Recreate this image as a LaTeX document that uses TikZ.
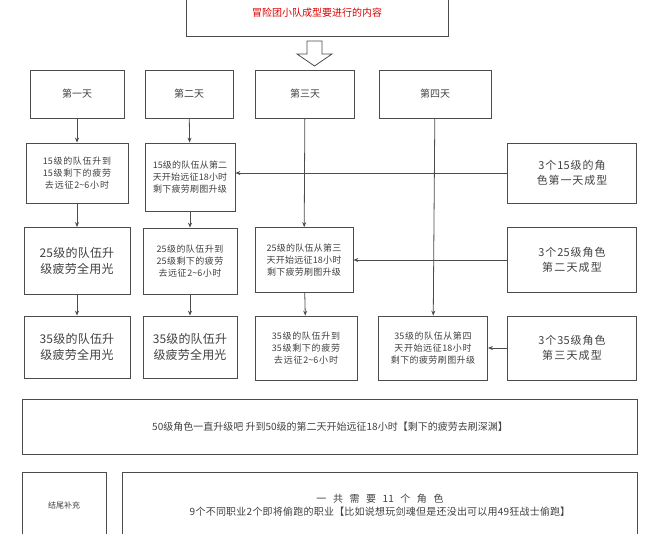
\documentclass[tikz,border=0pt]{standalone}
\usepackage{fontspec}
\setmainfont{Noto Sans CJK SC}
\XeTeXlinebreaklocale "zh"
\XeTeXlinebreakskip=0pt plus 1pt
\usetikzlibrary{arrows.meta}
\tikzset{
    box/.style={draw=black!70,line width=0.8pt,align=center,inner sep=1pt,text=black!75},
    link/.style={draw=black!70,line width=0.8pt,-{Stealth[length=5pt,width=4pt]}},
}
\begin{document}
\begin{tikzpicture}[x=1pt,y=-1pt]
    \useasboundingbox (0,0) rectangle (650,533);
    % title
    \node[box,minimum width=262pt,minimum height=46pt,text=red!85!black,font=\fontsize{10}{12}\selectfont]
        (title) at (317,13) {冒险团小队成型要进行的内容};
    \draw[black!70,line width=0.8pt,fill=white]
        (307,41) -- (322,41) -- (322,54) -- (332,54) -- (314.5,66) -- (297,54) -- (307,54) -- cycle;
    % days
    \node[box,minimum width=94pt,minimum height=48pt,font=\fontsize{10}{12}\selectfont] (d1) at (77,94) {第一天};
    \node[box,minimum width=88pt,minimum height=48pt,font=\fontsize{10}{12}\selectfont] (d2) at (189,94) {第二天};
    \node[box,minimum width=99pt,minimum height=48pt,font=\fontsize{10}{12}\selectfont] (d3) at (305,94) {第三天};
    \node[box,minimum width=112pt,minimum height=48pt,font=\fontsize{10}{12}\selectfont] (d4) at (435,94) {第四天};
    % first row
    \node[box,minimum width=102pt,minimum height=60pt,text width=94pt,font=\fontsize{9}{12}\selectfont]
        (b11) at (77,173) {15级的队伍升到15级剩下的疲劳去远征2\textasciitilde6小时};
    \node[box,minimum width=90pt,minimum height=68pt,text width=82pt,font=\fontsize{9}{12}\selectfont]
        (b12) at (190,177) {15级的队伍从第二天开始远征18小时剩下疲劳刷图升级};
    \node[box,minimum width=129pt,minimum height=60pt,text width=110pt,font=\fontsize{11}{15}\selectfont]
        (r1) at (572,173) {3个15级的角色第一天成型};
    % second row
    \node[box,minimum width=106pt,minimum height=67pt,text width=86pt,font=\fontsize{12}{16}\selectfont]
        (b21) at (77,261) {25级的队伍升级疲劳全用光};
    \node[box,minimum width=94pt,minimum height=66pt,text width=82pt,font=\fontsize{9}{12}\selectfont]
        (b22) at (190,261) {25级的队伍升到25级剩下的疲劳去远征2\textasciitilde6小时};
    \node[box,minimum width=98pt,minimum height=65pt,text width=84pt,font=\fontsize{9}{12}\selectfont]
        (b23) at (304,260) {25级的队伍从第三天开始远征18小时剩下疲劳刷图升级};
    \node[box,minimum width=129pt,minimum height=65pt,text width=110pt,font=\fontsize{11}{15}\selectfont]
        (r2) at (572,260) {3个25级角色第二天成型};
    % third row
    \node[box,minimum width=106pt,minimum height=62pt,text width=86pt,font=\fontsize{12}{16}\selectfont]
        (b31) at (77,347) {35级的队伍升级疲劳全用光};
    \node[box,minimum width=94pt,minimum height=62pt,text width=82pt,font=\fontsize{12}{16}\selectfont]
        (b32) at (190,347) {35级的队伍升级疲劳全用光};
    \node[box,minimum width=102pt,minimum height=64pt,text width=94pt,font=\fontsize{9}{12}\selectfont]
        (b33) at (306,348) {35级的队伍升到35级剩下的疲劳去远征2\textasciitilde6小时};
    \node[box,minimum width=109pt,minimum height=64pt,text width=98pt,font=\fontsize{9}{12}\selectfont]
        (b34) at (433,348) {35级的队伍从第四天开始远征18小时剩下的疲劳刷图升级};
    \node[box,minimum width=129pt,minimum height=64pt,text width=110pt,font=\fontsize{11}{15}\selectfont]
        (r3) at (572,348) {3个35级角色第三天成型};
    % bottom
    \node[box,minimum width=615pt,minimum height=55pt,font=\fontsize{10}{12}\selectfont]
        (all) at (330,427) {50级角色一直升级吧 升到50级的第二天开始远征18小时【剩下的疲劳去刷深渊】};
    \node[box,minimum width=84pt,minimum height=66pt,font=\fontsize{8}{10}\selectfont]
        (end) at (64,505) {结尾补充};
    \node[box,minimum width=515pt,minimum height=66pt,text width=390pt,font=\fontsize{10}{13}\selectfont]
        (note) at (380,505) {一共需要11个角色\\9个不同职业2个即将偷跑的职业【比如说想玩剑魂但是还没出可以用49狂战士偷跑】};
    % connectors
    \draw[link] (d1) -- (b11);
    \draw[link] (b11) -- (b21);
    \draw[link] (b21) -- (b31);
    \draw[link] (d2) -- (b12);
    \draw[link] (b12) -- (b22);
    \draw[link] (b22) -- (b32);
    \draw[link] (d3) -- (b23);
    \draw[link] (b23) -- (b33);
    \draw[link] (d4) -- (b34);
    \draw[link] (r1) -- (r1 -| b12.east);
    \draw[link] (r2) -- (r2 -| b23.east);
    \draw[link] (r3) -- (r3 -| b34.east);
\end{tikzpicture}
\end{document}
